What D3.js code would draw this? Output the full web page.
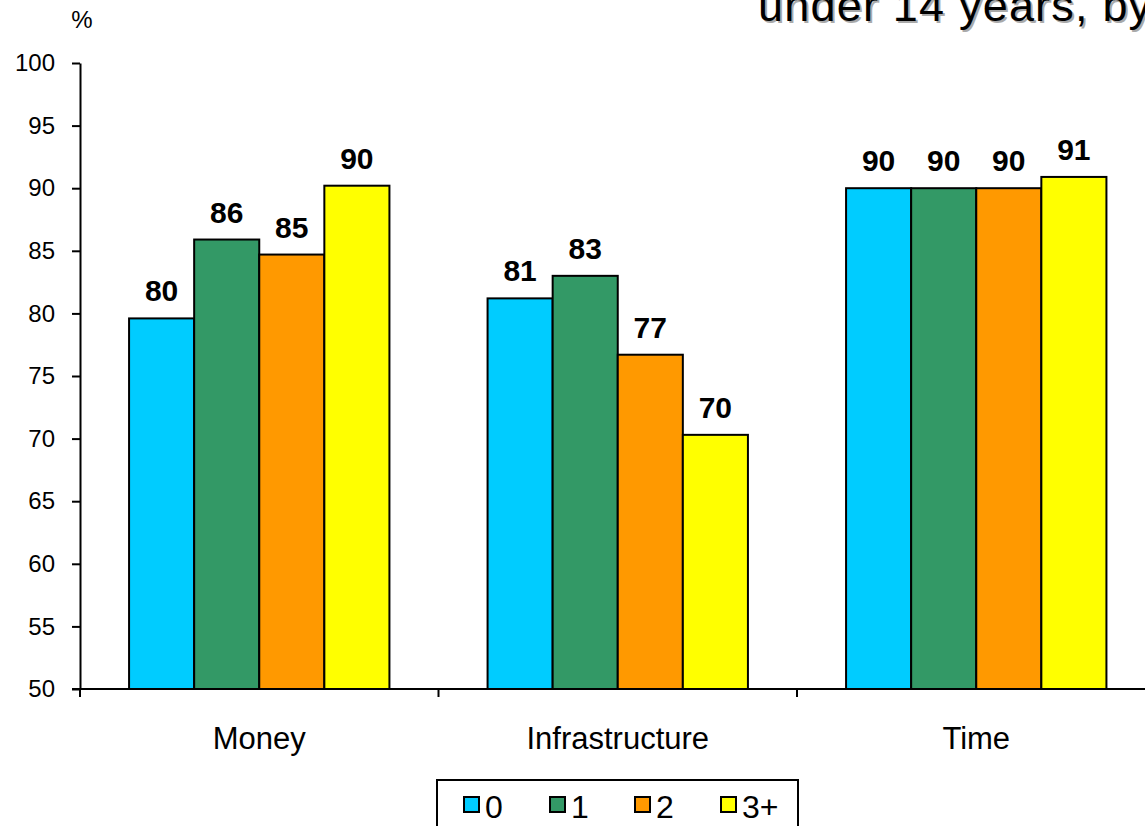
<!DOCTYPE html>
<html><head><meta charset="utf-8">
<script src="https://cdn.jsdelivr.net/npm/d3@7"></script>
<style>body{margin:0;background:#fff;overflow:hidden}svg{display:block}</style>
</head><body>
<script>
const categories = ["Money", "Infrastructure", "Time"];
const seriesNames = ["0", "1", "2", "3+"];
const series0 = [79.6, 81.2, 90.0];
const series1 = [85.9, 83.0, 90.0];
const series2 = [84.7, 76.7, 90.0];
const series3 = [90.2, 70.3, 90.9];
const colors = ["#00CCFF", "#339966", "#FF9900", "#FFFF00"];
const yTicks = [50, 55, 60, 65, 70, 75, 80, 85, 90, 95, 100];
const titleText = "under 14 years, by number of children";

const allSeries = [series0, series1, series2, series3];
const W = 1145, H = 826;
const FONT = "Liberation Sans, Arial, sans-serif";
const svg = d3.select("body").append("svg").attr("width", W).attr("height", H);

const x0 = 80, x1 = 80 + 358.5 * 3;
const x = d3.scaleBand().domain(categories).range([x0, x1]).paddingInner(0).paddingOuter(0);
const xs = d3.scaleBand().domain(seriesNames).range([0, x.bandwidth()]).paddingInner(0).paddingOuter(49 / 65);
const y = d3.scaleLinear().domain([50, 100]).range([689, 63]);

// title with shadow
svg.append("text").attr("x", 760).attr("y", 23).attr("font-family", FONT).attr("font-size", 45)
  .attr("letter-spacing", 1.2).attr("fill", "#aaa").text(titleText);
svg.append("text").attr("x", 758).attr("y", 21).attr("font-family", FONT).attr("font-size", 45)
  .attr("letter-spacing", 1.2).attr("fill", "#000").text(titleText);

svg.append("text").attr("x", 82).attr("y", 28).attr("text-anchor", "middle")
  .attr("font-family", FONT).attr("font-size", 24).text("%");

// bars
const data = [];
categories.forEach((c, i) => seriesNames.forEach((s, j) => data.push({c, s, j, v: allSeries[j][i]})));
svg.append("g").selectAll("rect").data(data).join("rect")
  .attr("x", d => x(d.c) + xs(d.s)).attr("width", xs.bandwidth())
  .attr("y", d => y(d.v)).attr("height", d => y(50) - y(d.v))
  .attr("fill", d => colors[d.j]).attr("stroke", "#000").attr("stroke-width", 2);

svg.append("g").selectAll("text").data(data).join("text")
  .attr("x", d => x(d.c) + xs(d.s) + xs.bandwidth() / 2).attr("y", d => y(d.v) - 17)
  .attr("text-anchor", "middle").attr("font-family", FONT)
  .attr("font-weight", "bold").attr("font-size", 30).text(d => Math.round(d.v));

// y axis
const yAxis = svg.append("g").attr("transform", `translate(${x0},0)`)
  .call(d3.axisLeft(y).tickValues(yTicks).tickSize(8).tickPadding(17).tickSizeOuter(0));
yAxis.select(".domain").attr("stroke", "#000").attr("stroke-width", 2);
yAxis.selectAll(".tick line").attr("stroke", "#000").attr("stroke-width", 2);
yAxis.selectAll(".tick text").attr("font-family", FONT).attr("font-size", 24).attr("fill", "#000");

// x axis
svg.append("line").attr("x1", x0 - 8).attr("x2", x1).attr("y1", y(50)).attr("y2", y(50))
  .attr("stroke", "#000").attr("stroke-width", 2);
const bounds = categories.map(c => x(c)).concat([x1]);
svg.append("g").selectAll("line").data(bounds).join("line")
  .attr("x1", d => d).attr("x2", d => d).attr("y1", y(50)).attr("y2", y(50) + 8)
  .attr("stroke", "#000").attr("stroke-width", 2);
svg.append("g").selectAll("text").data(categories).join("text")
  .attr("x", d => x(d) + x.bandwidth() / 2).attr("y", 749).attr("text-anchor", "middle")
  .attr("font-family", FONT).attr("font-size", 31).text(d => d);

// legend
const lg = svg.append("g");
lg.append("rect").attr("x", 437).attr("y", 780).attr("width", 361).attr("height", 60)
  .attr("fill", "#fff").attr("stroke", "#000").attr("stroke-width", 2);
const lx = [464, 550, 635, 721];
seriesNames.forEach((s, j) => {
  lg.append("rect").attr("x", lx[j]).attr("y", 797).attr("width", 15).attr("height", 15)
    .attr("fill", colors[j]).attr("stroke", "#000").attr("stroke-width", 2);
  lg.append("text").attr("x", lx[j] + 21).attr("y", 818).attr("font-family", FONT)
    .attr("font-size", 32).text(s);
});
</script>
</body></html>
